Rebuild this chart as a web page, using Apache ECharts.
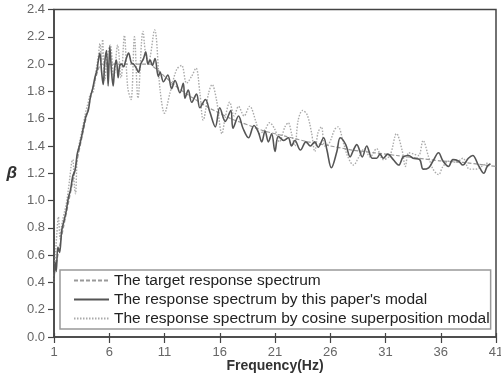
<!DOCTYPE html>
<html><head><meta charset="utf-8">
<script src="https://cdn.jsdelivr.net/npm/echarts@6/dist/echarts.min.js"></script>
<style>html,body{margin:0;padding:0;background:#fff}#c{width:501px;height:376px}</style>
</head><body><div id="c"></div>
<script>
var seriesNames = ["The target response spectrum", "The response spectrum by this paper's modal", "The response spectrum by cosine superposition modal"];
var xTickLabels = [1, 6, 11, 16, 21, 26, 31, 36, 41];

var targetFreq = [1, 1.5, 2, 2.5, 3, 3.5, 4, 4.5, 5, 5.25, 5.5, 6, 7, 8, 9, 9.75, 10, 10.5, 11, 12, 13, 14, 15, 16, 17, 18, 19, 20, 22, 24, 26, 28, 30, 32, 34, 36, 38, 40, 41];
var targetVal  = [0.45, 0.66, 0.86, 1.06, 1.26, 1.45, 1.64, 1.82, 1.96, 2.0, 2.0, 2.0, 2.0, 2.0, 2.0, 2.0, 1.98, 1.95, 1.91, 1.84, 1.78, 1.73, 1.68, 1.64, 1.60, 1.57, 1.54, 1.51, 1.47, 1.43, 1.40, 1.37, 1.35, 1.33, 1.31, 1.29, 1.28, 1.26, 1.25];

var paperFreq = [1.0, 1.1, 1.2, 1.35, 1.5, 1.7, 1.9, 2.1, 2.3, 2.5, 2.7, 2.9, 3.1, 3.3, 3.5, 3.7, 3.9, 4.1, 4.3, 4.5, 4.7, 4.9, 5.0, 5.15, 5.3, 5.45, 5.6, 5.75, 5.9, 6.05, 6.2, 6.35, 6.5, 6.65, 6.8, 6.95, 7.1, 7.3, 7.5, 7.75, 8.0, 8.2, 8.45, 8.65, 8.85, 9.1, 9.3, 9.5, 9.7, 9.9, 10.14, 10.44, 10.6, 10.9, 11.3, 11.65, 11.95, 12.4, 12.7, 12.85, 13.15, 13.46, 13.9, 14.2, 14.7, 15.1, 15.6, 16.0, 16.5, 17.0, 17.2, 17.7, 18.1, 18.6, 19.1, 19.5, 19.8, 20.1, 20.4, 20.7, 21.0, 21.3, 21.8, 22.2, 22.5, 22.8, 23.3, 23.8, 24.2, 24.6, 24.9, 25.4, 25.7, 26.1, 26.6, 26.9, 27.4, 27.8, 28.1, 28.4, 28.9, 29.3, 29.8, 30.2, 30.5, 30.8, 31.2, 31.7, 32.2, 32.6, 33.1, 33.5, 34.1, 34.4, 34.9, 35.3, 35.8, 36.2, 36.7, 37.1, 37.6, 38.0, 38.5, 38.9, 39.4, 39.9, 40.2, 40.5];
var paperVal  = [0.40, 0.55, 0.48, 0.66, 0.62, 0.78, 0.85, 0.92, 1.02, 1.08, 1.18, 1.22, 1.34, 1.40, 1.47, 1.55, 1.62, 1.66, 1.76, 1.82, 1.90, 1.96, 2.02, 2.08, 1.95, 1.85, 2.02, 2.10, 1.84, 2.13, 1.95, 1.84, 1.98, 2.03, 1.90, 1.99, 2.00, 1.98, 2.03, 2.08, 2.01, 2.00, 1.97, 1.94, 2.00, 2.04, 2.09, 2.00, 2.03, 1.99, 2.04, 1.91, 1.94, 1.87, 1.92, 1.82, 1.88, 1.79, 1.86, 1.75, 1.81, 1.72, 1.78, 1.68, 1.74, 1.65, 1.54, 1.68, 1.58, 1.66, 1.53, 1.62, 1.53, 1.46, 1.55, 1.50, 1.43, 1.51, 1.43, 1.49, 1.36, 1.47, 1.44, 1.46, 1.40, 1.44, 1.37, 1.43, 1.40, 1.43, 1.39, 1.46, 1.37, 1.24, 1.36, 1.46, 1.41, 1.32, 1.37, 1.41, 1.32, 1.40, 1.31, 1.31, 1.34, 1.31, 1.34, 1.30, 1.26, 1.32, 1.33, 1.31, 1.30, 1.23, 1.24, 1.29, 1.35, 1.29, 1.25, 1.30, 1.29, 1.26, 1.31, 1.33, 1.26, 1.20, 1.25, 1.27];

var cosFreq = [1.0, 1.1, 1.25, 1.4, 1.55, 1.7, 1.9, 2.1, 2.3, 2.45, 2.6, 2.7, 2.85, 2.95, 3.1, 3.3, 3.5, 3.7, 3.9, 4.1, 4.3, 4.56, 4.8, 5.0, 5.16, 5.3, 5.4, 5.6, 5.8, 6.1, 6.4, 6.76, 7.07, 7.37, 7.67, 7.97, 8.28, 8.6, 9.05, 9.3, 9.55, 10.1, 10.6, 11.0, 11.5, 12.1, 12.55, 13.0, 13.45, 13.85, 14.2, 14.5, 15.0, 15.3, 15.7, 16.2, 16.5, 16.9, 17.3, 17.7, 18.2, 18.7, 19.3, 19.6, 20.1, 20.5, 21.0, 21.4, 21.9, 22.2, 22.5, 22.8, 23.1, 23.5, 23.9, 24.3, 24.6, 24.9, 25.2, 25.5, 25.9, 26.4, 26.7, 27.2, 27.6, 28.1, 28.6, 29.1, 29.6, 30.2, 30.8, 31.4, 32.0, 32.5, 32.8, 33.1, 33.6, 34.0, 34.4, 34.9, 35.3, 35.8, 36.2, 36.8, 37.4, 38.0, 38.6, 39.2, 39.7, 40.3];
var cosVal  = [0.40, 0.55, 0.75, 0.88, 0.72, 0.82, 0.90, 0.97, 1.08, 1.18, 1.28, 1.30, 1.10, 1.05, 1.32, 1.42, 1.50, 1.58, 1.66, 1.72, 1.78, 1.80, 1.95, 2.05, 2.15, 2.02, 2.18, 1.88, 2.05, 2.14, 1.90, 2.14, 1.90, 2.21, 1.83, 1.74, 2.20, 1.75, 2.24, 2.07, 2.02, 2.25, 1.81, 1.64, 1.79, 1.96, 1.99, 1.86, 1.91, 1.97, 1.79, 1.59, 1.79, 1.85, 1.74, 1.49, 1.61, 1.72, 1.62, 1.69, 1.62, 1.69, 1.57, 1.49, 1.52, 1.57, 1.52, 1.43, 1.54, 1.57, 1.49, 1.40, 1.59, 1.66, 1.63, 1.50, 1.36, 1.50, 1.54, 1.40, 1.42, 1.52, 1.54, 1.42, 1.32, 1.26, 1.32, 1.38, 1.32, 1.38, 1.30, 1.33, 1.49, 1.37, 1.25, 1.35, 1.34, 1.33, 1.44, 1.32, 1.23, 1.19, 1.25, 1.29, 1.28, 1.31, 1.23, 1.23, 1.25, 1.28];

function zip(a, b) { return a.map(function (v, i) { return [v, b[i]]; }); }

var font = "'Liberation Sans', Arial, sans-serif";
var chart = echarts.init(document.getElementById('c'), null, {renderer: 'canvas'});
chart.setOption({
  animation: false,
  backgroundColor: '#fff',
  grid: {left: 54, right: 5, top: 9.5, bottom: 39, outerBoundsMode: 'none', containLabel: false,
         show: true, borderColor: '#444', borderWidth: 1.5, backgroundColor: 'transparent'},
  legend: {
    orient: 'vertical', left: 60, top: 270,
    padding: [2, 1, 2, 13], itemGap: 2, itemWidth: 35, itemHeight: 14,
    backgroundColor: '#fff', borderColor: '#999', borderWidth: 1.5, borderRadius: 0,
    itemStyle: {opacity: 0},
    textStyle: {fontFamily: font, fontSize: 15.5, lineHeight: 17, color: '#222'},
    data: seriesNames
  },
  xAxis: [{
    type: 'value', min: 1, max: 41,
    name: 'Frequency(Hz)', nameLocation: 'middle', nameGap: 22, nameMoveOverlap: false,
    nameTextStyle: {fontFamily: font, fontSize: 14, fontWeight: 'bold', color: '#333'},
    axisLine: {show: true, lineStyle: {color: '#444', width: 1.5}},
    axisTick: {show: true, length: 6, lineStyle: {color: '#444', width: 1.2}, customValues: xTickLabels},
    axisLabel: {fontFamily: font, fontSize: 13, color: '#666', margin: 9, customValues: xTickLabels},
    splitLine: {show: false}
  }, {
    type: 'value', min: 1, max: 41, position: 'bottom',
    axisLine: {show: false},
    axisTick: {show: true, inside: true, length: 4, lineStyle: {color: '#444', width: 1.2}, customValues: xTickLabels},
    axisLabel: {show: false},
    splitLine: {show: false}
  }],
  yAxis: {
    type: 'value', min: 0, max: 2.4, interval: 0.2,
    name: 'β', nameLocation: 'middle', nameGap: 37, nameRotate: 0, nameMoveOverlap: false,
    nameTextStyle: {fontFamily: font, fontSize: 17, fontWeight: 'bold', fontStyle: 'italic', color: '#333'},
    axisLine: {show: true, lineStyle: {color: '#444', width: 1.5}},
    axisTick: {show: true, length: 6, lineStyle: {color: '#444', width: 1.2}},
    axisLabel: {fontFamily: font, fontSize: 13, color: '#666', margin: 9, formatter: function (v) { return v.toFixed(1); }},
    splitLine: {show: false}
  },
  series: [{
    name: seriesNames[0], type: 'line', symbol: 'none', smooth: 0.2,
    data: zip(targetFreq, targetVal),
    lineStyle: {color: '#999', width: 1.2, type: [4, 2]}, itemStyle: {color: '#999'}, z: 3
  }, {
    name: seriesNames[1], type: 'line', symbol: 'none', smooth: 0.35,
    data: zip(paperFreq, paperVal),
    lineStyle: {color: '#555', width: 1.6}, itemStyle: {color: '#555'}, z: 4
  }, {
    name: seriesNames[2], type: 'line', symbol: 'none', smooth: 0.35,
    data: zip(cosFreq, cosVal),
    lineStyle: {color: '#aaa', width: 1.4, type: [1.5, 1.5]}, itemStyle: {color: '#aaa'}, z: 2
  }]
});
</script></body></html>
